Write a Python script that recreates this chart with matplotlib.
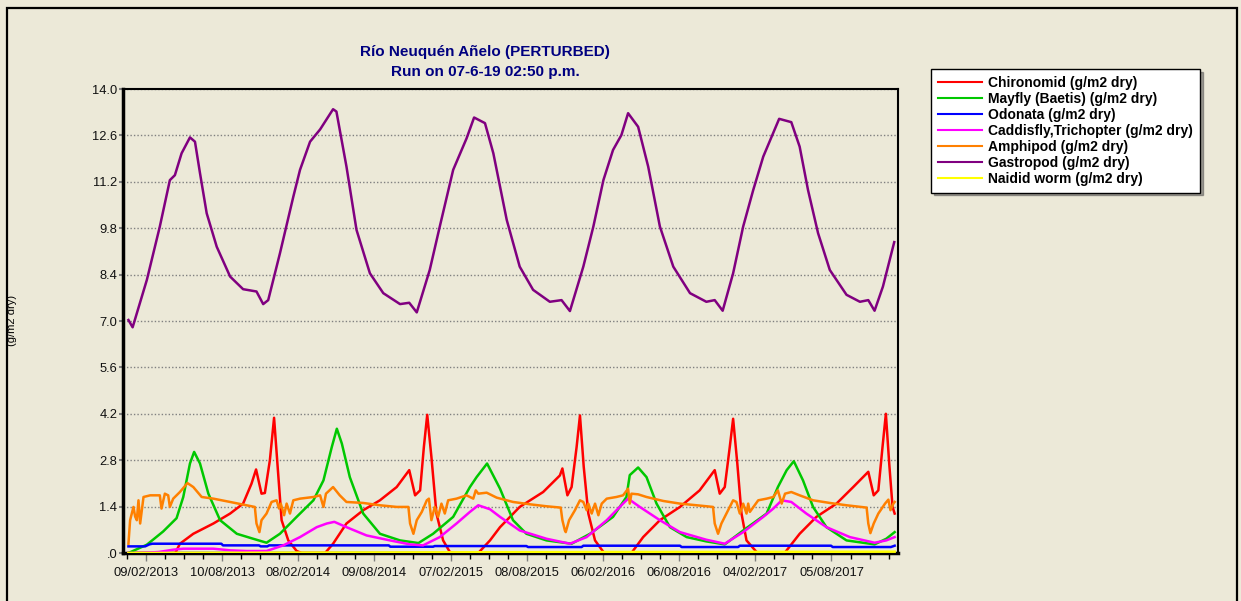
import matplotlib
matplotlib.use("Agg")
import matplotlib.pyplot as plt
from matplotlib.patches import Rectangle

plt.rcParams['font.family'] = ['Liberation Sans', 'DejaVu Sans']

# days counted from 09/02/2013, values in g/m2 dry
chironomid = [(-42, 0), (70, 0), (81, 0.28), (113, 0.58), (161, 0.89), (201, 1.19), (232, 1.49),
              (252, 2.09), (263, 2.52), (276, 1.79), (284, 1.81), (296, 2.8), (306, 4.08), (314, 2.7),
              (324, 0.99), (340, 0.38), (360, 0.06), (372, 0), (428, 0), (447, 0.28), (479, 0.89),
              (519, 1.29), (559, 1.59), (599, 1.99), (629, 2.5), (643, 1.74), (655, 1.89), (664, 3.2),
              (672, 4.17), (682, 2.9), (694, 1.19), (710, 0.38), (726, 0.03), (740, 0), (794, 0),
              (822, 0.38), (846, 0.78), (893, 1.39), (949, 1.84), (989, 2.34), (995, 2.55), (1007, 1.74),
              (1017, 1.99), (1029, 3.2), (1037, 4.15), (1046, 2.6), (1057, 1.19), (1073, 0.38),
              (1093, 0.03), (1105, 0), (1160, 0), (1188, 0.48), (1228, 0.99), (1276, 1.39), (1323, 1.89),
              (1359, 2.5), (1371, 1.79), (1383, 1.99), (1395, 3.2), (1403, 4.05), (1413, 2.7),
              (1423, 1.19), (1435, 0.38), (1459, 0.03), (1470, 0), (1526, 0), (1562, 0.58), (1602, 1.09),
              (1650, 1.49), (1690, 1.99), (1726, 2.45), (1739, 1.74), (1750, 1.89), (1760, 3.2),
              (1768, 4.2), (1776, 2.7), (1784, 1.39), (1789, 1.19)]
mayfly = [(-42, 0.0), (2, 0.25), (41, 0.65), (73, 1.05), (89, 1.69), (105, 2.7), (115, 3.05), (129, 2.7),
          (149, 1.79), (177, 0.99), (217, 0.58), (256, 0.43), (288, 0.31), (320, 0.58), (360, 1.09),
          (400, 1.59), (424, 2.19), (444, 3.2), (456, 3.75), (468, 3.3), (487, 2.29), (519, 1.19),
          (559, 0.58), (607, 0.38), (651, 0.30), (686, 0.58), (734, 1.09), (774, 1.99), (790, 2.29),
          (815, 2.7), (846, 1.94), (877, 0.99), (909, 0.58), (957, 0.38), (1017, 0.28), (1061, 0.58),
          (1116, 1.09), (1148, 1.69), (1156, 2.35), (1176, 2.58), (1196, 2.29), (1220, 1.49),
          (1252, 0.78), (1292, 0.48), (1339, 0.35), (1383, 0.26), (1427, 0.68), (1483, 1.19),
          (1510, 1.99), (1531, 2.5), (1548, 2.77), (1570, 2.19), (1594, 1.39), (1626, 0.78),
          (1674, 0.38), (1741, 0.26), (1769, 0.43), (1789, 0.63)]
odonata = [(-42, 0.2), (-2, 0.2), (8, 0.26), (15, 0.28), (180, 0.28), (184, 0.23), (270, 0.23), (274, 0.2),
           (290, 0.2), (294, 0.23), (580, 0.23), (584, 0.19), (686, 0.19), (690, 0.21), (909, 0.21),
           (913, 0.18), (1041, 0.18), (1045, 0.22), (1276, 0.22), (1280, 0.18), (1415, 0.18),
           (1419, 0.22), (1637, 0.22), (1641, 0.18), (1780, 0.18), (1789, 0.22)]
caddisfly = [(-42, 0), (-10, 0), (30, 0.03), (65, 0.1), (89, 0.13), (161, 0.13), (201, 0.08), (240, 0.06),
             (288, 0.06), (328, 0.23), (368, 0.48), (408, 0.78), (432, 0.89), (450, 0.94), (479, 0.78),
             (527, 0.53), (583, 0.38), (631, 0.26), (662, 0.23), (702, 0.48), (742, 0.89), (774, 1.24),
             (794, 1.44), (822, 1.32), (846, 1.09), (893, 0.68), (957, 0.43), (1013, 0.28), (1053, 0.48),
             (1101, 0.99), (1132, 1.39), (1152, 1.64), (1180, 1.39), (1228, 0.99), (1276, 0.63),
             (1339, 0.40), (1383, 0.28), (1427, 0.63), (1475, 1.09), (1499, 1.34), (1519, 1.59),
             (1542, 1.54), (1578, 1.19), (1626, 0.78), (1682, 0.48), (1741, 0.31), (1769, 0.38),
             (1789, 0.48)]
amphipod = [(-42, 0.28), (-38, 0.99), (-30, 1.39), (-26, 1.1), (-22, 0.99), (-18, 1.59), (-14, 0.89),
            (-6, 1.69), (10, 1.74), (33, 1.74), (37, 1.34), (45, 1.79), (53, 1.74), (57, 1.39), (65, 1.64),
            (81, 1.84), (99, 2.11), (113, 1.99), (133, 1.69), (161, 1.64), (201, 1.54), (240, 1.44),
            (260, 1.39), (264, 0.89), (271, 0.63), (276, 0.99), (288, 1.19), (300, 1.54), (312, 1.59),
            (318, 1.34), (322, 1.49), (330, 1.14), (336, 1.49), (344, 1.19), (352, 1.59), (368, 1.64),
            (400, 1.69), (416, 1.74), (424, 1.39), (430, 1.79), (447, 1.99), (463, 1.74), (479, 1.54),
            (519, 1.51), (559, 1.44), (599, 1.39), (627, 1.39), (631, 0.89), (639, 0.58), (647, 0.99),
            (659, 1.24), (671, 1.59), (676, 1.64), (682, 0.99), (690, 1.39), (698, 1.09), (706, 1.49),
            (714, 1.19), (722, 1.59), (742, 1.64), (766, 1.74), (782, 1.64), (788, 1.89), (794, 1.79),
            (814, 1.82), (838, 1.67), (877, 1.54), (917, 1.47), (957, 1.41), (991, 1.37), (995, 0.99),
            (1001, 0.68), (1003, 0.63), (1011, 0.99), (1025, 1.29), (1037, 1.59), (1045, 1.54),
            (1053, 1.29), (1057, 1.49), (1065, 1.19), (1073, 1.49), (1081, 1.14), (1089, 1.49),
            (1101, 1.64), (1124, 1.69), (1140, 1.74), (1152, 1.94), (1156, 1.49), (1160, 1.79),
            (1176, 1.77), (1196, 1.69), (1236, 1.57), (1276, 1.49), (1316, 1.44), (1355, 1.39),
            (1359, 0.89), (1367, 0.58), (1375, 0.89), (1387, 1.19), (1403, 1.59), (1411, 1.54),
            (1419, 1.19), (1427, 1.49), (1435, 1.19), (1439, 1.49), (1443, 1.24), (1463, 1.59),
            (1483, 1.64), (1499, 1.69), (1510, 1.89), (1519, 1.49), (1527, 1.79), (1542, 1.84),
            (1562, 1.74), (1594, 1.59), (1634, 1.51), (1674, 1.44), (1722, 1.37), (1726, 0.89),
            (1731, 0.6), (1739, 0.89), (1750, 1.19), (1766, 1.49), (1774, 1.61), (1779, 1.29),
            (1786, 1.49), (1789, 1.54)]
gastropod = [(-42, 7.03), (-32, 6.81), (2, 8.24), (33, 9.85), (57, 11.25), (69, 11.4), (85, 12.06),
             (105, 12.54), (117, 12.41), (129, 11.46), (145, 10.25), (169, 9.24), (201, 8.34), (232, 7.96),
             (264, 7.89), (280, 7.51), (292, 7.63), (320, 9.04), (352, 10.75), (368, 11.56), (392, 12.41),
             (416, 12.78), (447, 13.39), (455, 13.32), (479, 11.66), (503, 9.75), (535, 8.44), (567, 7.84),
             (607, 7.51), (629, 7.55), (647, 7.26), (678, 8.54), (702, 9.85), (734, 11.56), (766, 12.51),
             (784, 13.14), (810, 12.97), (830, 12.06), (862, 10.05), (893, 8.64), (925, 7.94),
             (965, 7.58), (993, 7.63), (1013, 7.30), (1045, 8.64), (1069, 9.85), (1093, 11.25),
             (1116, 12.16), (1136, 12.61), (1152, 13.27), (1176, 12.86), (1200, 11.66), (1228, 9.85),
             (1260, 8.64), (1300, 7.84), (1339, 7.58), (1359, 7.63), (1378, 7.31), (1403, 8.44),
             (1427, 9.85), (1451, 10.95), (1475, 11.96), (1495, 12.56), (1513, 13.10), (1542, 13.0),
             (1562, 12.26), (1582, 10.95), (1606, 9.65), (1634, 8.54), (1674, 7.79), (1706, 7.58),
             (1726, 7.63), (1741, 7.31), (1761, 8.04), (1788, 9.38)]
naidid = [(-42, 0.0), (300, 0.01), (700, 0.02), (1100, 0.03), (1500, 0.035), (1789, 0.04)]

series_names = ['Chironomid (g/m2 dry)', 'Mayfly (Baetis) (g/m2 dry)', 'Odonata (g/m2 dry)',
                'Caddisfly,Trichopter (g/m2 dry)', 'Amphipod (g/m2 dry)', 'Gastropod (g/m2 dry)',
                'Naidid worm (g/m2 dry)']
series_colors = ['#ff0000', '#00c800', '#0000ff', '#ff00ff', '#ff8000', '#800080', '#ffff00']

x_tick_days = [0, 182, 364, 546, 728, 910, 1092, 1274, 1456, 1638]
x_tick_labels = ['09/02/2013', '10/08/2013', '08/02/2014', '09/08/2014', '07/02/2015',
                 '08/08/2015', '06/02/2016', '06/08/2016', '04/02/2017', '05/08/2017']
y_ticks = [0, 1.4, 2.8, 4.2, 5.6, 7.0, 8.4, 9.8, 11.2, 12.6, 14.0]
y_labels = ['.0', '1.4', '2.8', '4.2', '5.6', '7.0', '8.4', '9.8', '11.2', '12.6', '14.0']

bg = '#ece9d8'
W, H = 1241, 601
fig = plt.figure(figsize=(W / 100, H / 100), dpi=100, facecolor=bg)

# outer frame
fig.add_artist(Rectangle((7 / W, -0.05), (1237 - 7) / W, (H - 8) / H + 0.05, transform=fig.transFigure,
                         fill=False, edgecolor='black', lw=1.6, zorder=5))

ax = fig.add_axes([123 / W, (H - 553) / H, (898 - 123) / W, (553 - 89) / H], facecolor=bg)

all_series = [chironomid, mayfly, odonata, caddisfly, amphipod, gastropod, naidid]
for data, name, col in zip(all_series, series_names, series_colors):
    xs = [p[0] for p in data]
    ys = [p[1] for p in data]
    ax.plot(xs, ys, color=col, lw=1.8, label=name, zorder=3)

ax.set_yticks(y_ticks)
ax.set_yticklabels(y_labels)
ax.set_xticks(x_tick_days)
ax.set_xticklabels(x_tick_labels)
ax.set_xticks([d + k * 45.5 for d in [-182] + x_tick_days for k in (1, 2, 3)], minor=True)
ax.set_xlim(-55, 1797)
ax.set_ylim(0, 14)
ax.tick_params(axis='both', labelsize=9.3, colors='#808080', labelcolor='#111111')
ax.tick_params(axis='y', length=3, width=1.5, pad=1)
ax.tick_params(axis='x', which='major', length=6, width=1, pad=4)
ax.tick_params(axis='x', which='minor', length=4, width=1)
ax.grid(axis='y', color='#808080', linestyle=(0, (1, 1.5)), lw=1)
ax.set_axisbelow(True)
for s in ['left', 'bottom']:
    ax.spines[s].set_linewidth(2.5)
for s in ['top', 'right']:
    ax.spines[s].set_linewidth(1.5)

fig.text(485 / W, 1 - 52 / H, 'Río Neuquén Añelo (PERTURBED)', ha='center', va='center',
         color='#000080', fontsize=11, fontweight='bold')
fig.text(485 / W, 1 - 72 / H, 'Run on 07-6-19 02:50 p.m.', ha='center', va='center',
         color='#000080', fontsize=11, fontweight='bold')
fig.text(12 / W, 1 - 320 / H, '(g/m2 dry)', rotation=90, ha='center', va='center', fontsize=8)

leg = fig.legend(loc='upper left', bbox_to_anchor=(931 / W, 1 - 69 / H),
                 prop={'weight': 'bold', 'size': 10}, frameon=True, fancybox=False, shadow=True,
                 handlelength=3.2, handletextpad=0.4, labelspacing=0.14, borderpad=0.5,
                 borderaxespad=0)
leg.get_frame().set_edgecolor('black')
leg.get_frame().set_linewidth(1.0)
leg.get_frame().set_facecolor('white')
for h in leg.legend_handles:
    h.set_linewidth(1.5)

fig.savefig('out.png', dpi=100, facecolor=bg)
